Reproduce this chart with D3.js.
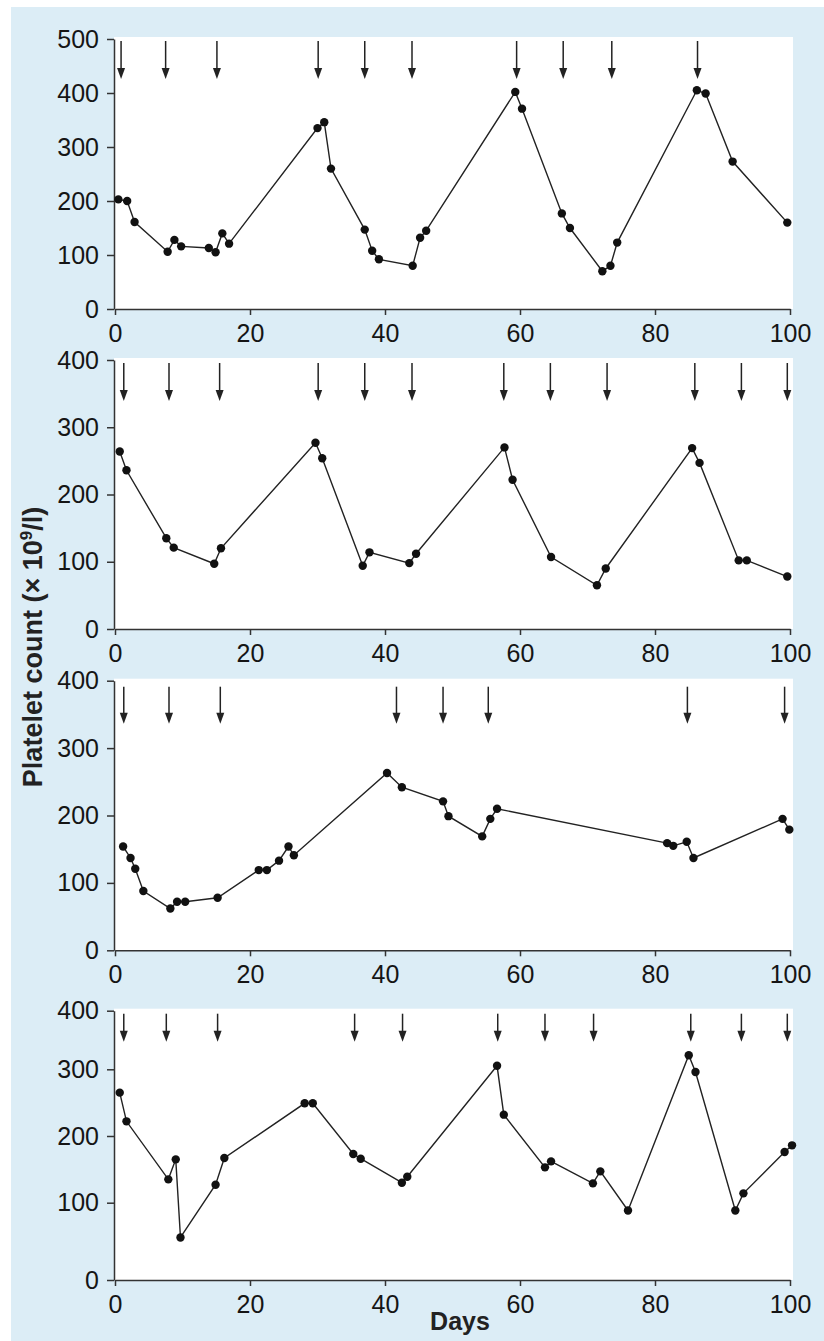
<!DOCTYPE html>
<html>
<head>
<meta charset="utf-8">
<script src="https://cdn.jsdelivr.net/npm/d3@7"></script>
<style>
  body { margin: 0; background: #fff; }
  svg text { font-family: "Liberation Sans", Arial, Helvetica, sans-serif; }
</style>
</head>
<body>
<script>
// patient 1
const p1Days   = [0.5, 1.8, 2.9, 7.8, 8.8, 9.8, 13.9, 14.9, 15.9, 16.9, 30.0, 31.0, 32.0, 37.0, 38.1, 39.1, 44.1, 45.2, 46.1, 59.3, 60.3, 66.2, 67.4, 72.2, 73.4, 74.4, 86.2, 87.5, 91.5, 99.6];
const p1Counts = [203, 200, 161, 106, 128, 116, 113, 105, 140, 121, 335, 346, 260, 147, 108, 92, 80, 132, 145, 402, 371, 177, 150, 70, 80, 123, 405, 399, 273, 160];
const p1Doses  = [0.9, 7.5, 15.1, 30.1, 37.0, 44.0, 59.5, 66.4, 73.6, 86.3];

// patient 2
const p2Days   = [0.7, 1.7, 7.6, 8.7, 14.7, 15.7, 29.7, 30.7, 36.7, 37.7, 43.6, 44.6, 57.7, 58.9, 64.6, 71.4, 72.7, 85.5, 86.6, 92.4, 93.6, 99.6];
const p2Counts = [264, 236, 135, 121, 97, 120, 277, 254, 94, 114, 98, 112, 270, 222, 107, 65, 90, 269, 247, 102, 102, 78];
const p2Doses  = [1.3, 8.0, 15.5, 30.1, 37.0, 44.0, 57.6, 64.5, 72.9, 85.9, 92.8, 99.6];

// patient 3
const p3Days   = [1.2, 2.3, 3.0, 4.2, 8.2, 9.2, 10.4, 15.2, 21.3, 22.5, 24.3, 25.7, 26.5, 40.3, 42.5, 48.6, 49.4, 54.4, 55.6, 56.6, 81.8, 82.7, 84.7, 85.7, 98.9, 99.9];
const p3Counts = [154, 137, 121, 88, 62, 72, 72, 78, 119, 119, 133, 154, 141, 263, 242, 221, 199, 169, 195, 210, 159, 155, 161, 137, 195, 179];
const p3Doses  = [1.3, 8.0, 15.6, 41.7, 48.6, 55.3, 84.8, 99.2];

// patient 4
const p4Days   = [0.7, 1.7, 7.9, 9.0, 9.7, 14.9, 16.2, 28.1, 29.3, 35.3, 36.4, 42.5, 43.3, 56.6, 57.6, 63.7, 64.6, 70.8, 71.9, 76.0, 85.0, 86.0, 91.9, 93.1, 99.2, 100.3];
const p4Counts = [265, 222, 135, 165, 55, 127, 167, 249, 249, 173, 166, 130, 139, 306, 232, 153, 162, 129, 147, 90, 324, 296, 90, 114, 176, 186];
const p4Doses  = [1.3, 7.6, 15.2, 35.5, 42.6, 56.7, 63.7, 70.9, 85.3, 92.8, 99.6];

const xTicks = [0, 20, 40, 60, 80, 100];
const yTicks1 = [0, 100, 200, 300, 400, 500];
const yTicks = [0, 100, 200, 300, 400];

const xLabel = "Days";

const width = 824, height = 1341;

const svg = d3.select("body").append("svg")
    .attr("width", width)
    .attr("height", height);

svg.append("rect")
    .attr("x", 11).attr("y", 7)
    .attr("width", width - 11).attr("height", height - 7)
    .attr("fill", "#dcedf6");

const x = d3.scaleLinear().domain([0, 100]).range([115, 790]);

// layout of the four stacked panels (the 4th panel's axis is slightly uneven in the original)
const panels = [
    {days: p1Days, counts: p1Counts, doses: p1Doses, ticks: yTicks1, range: [309, 39], arrow: [2, 40]},
    {days: p2Days, counts: p2Counts, doses: p2Doses, ticks: yTicks, range: [629, 360], arrow: [3, 41]},
    {days: p3Days, counts: p3Counts, doses: p3Doses, ticks: yTicks, range: [950.3, 680.7], arrow: [6, 43]},
    {days: p4Days, counts: p4Counts, doses: p4Doses, ticks: yTicks, range: [1280, 1202.7, 1136, 1069.3, 1010.7], arrow: [3, 31]}
];

const line = d3.line()
    .x(function(d) { return x(d[0]); })
    .y(function(d) { return d[2](d[1]); })
    .curve(d3.curveLinear);

panels.forEach(function(p) {
    let y;
    if (p.range.length > 2)
        y = d3.scaleLinear().domain(p.ticks).range(p.range);
    else
        y = d3.scaleLinear().domain([0, d3.max(p.ticks)]).range(p.range);

    const top = y(d3.max(p.ticks)), bottom = y(0);
    const g = svg.append("g");

    g.append("rect")
        .attr("x", 114).attr("y", top - 2)
        .attr("width", 793 - 114).attr("height", bottom - top + 2)
        .attr("fill", "#fff");

    const yAxis = g.append("g")
        .attr("transform", "translate(114,0)")
        .call(d3.axisLeft(y).tickValues(p.ticks).tickSize(7).tickSizeOuter(0).tickPadding(8));

    const xAxis = g.append("g")
        .attr("transform", "translate(0," + bottom + ")")
        .call(d3.axisBottom(x).tickValues(xTicks).tickSize(6).tickSizeOuter(0).tickPadding(9));

    [yAxis, xAxis].forEach(function(a) {
        a.selectAll("path, line").attr("stroke", "#333").attr("stroke-width", 1.5);
        a.selectAll("text").attr("font-size", 25).attr("fill", "#151515")
            .style("font-family", "'Liberation Sans', Arial, sans-serif");
    });

    // dosing arrows
    const arrows = g.append("g").selectAll("g")
        .data(p.doses)
        .enter().append("g")
        .attr("transform", function(d) { return "translate(" + x(d) + "," + top + ")"; });

    arrows.append("line")
        .attr("x1", 0).attr("x2", 0)
        .attr("y1", p.arrow[0]).attr("y2", p.arrow[1] - 6)
        .attr("stroke", "#222").attr("stroke-width", 1.5);

    arrows.append("path")
        .attr("d", "M-4," + (p.arrow[1] - 11) + "L4," + (p.arrow[1] - 11) + "L0," + p.arrow[1] + "Z")
        .attr("fill", "#222");

    const pts = p.days.map(function(d, i) { return [d, p.counts[i], y]; });

    g.append("path")
        .attr("d", line(pts))
        .attr("fill", "none")
        .attr("stroke", "#222")
        .attr("stroke-width", 1.4);

    g.append("g").selectAll("circle")
        .data(pts)
        .enter().append("circle")
        .attr("cx", function(d) { return x(d[0]); })
        .attr("cy", function(d) { return y(d[1]); })
        .attr("r", 4.2)
        .attr("fill", "#111");
});

// axis titles
const yTitle = svg.append("text")
    .attr("transform", "translate(42,647) rotate(-90)")
    .attr("text-anchor", "middle")
    .attr("font-size", 27)
    .attr("font-weight", "bold")
    .attr("fill", "#222");
yTitle.append("tspan").text("Platelet count (× 10");
yTitle.append("tspan").attr("dy", -10).attr("font-size", 17).text("9");
yTitle.append("tspan").attr("dy", 10).text("/l)");

svg.append("text")
    .attr("x", 460).attr("y", 1330)
    .attr("text-anchor", "middle")
    .attr("font-size", 25)
    .attr("font-weight", "bold")
    .attr("fill", "#222")
    .text(xLabel);
</script>
</body>
</html>
